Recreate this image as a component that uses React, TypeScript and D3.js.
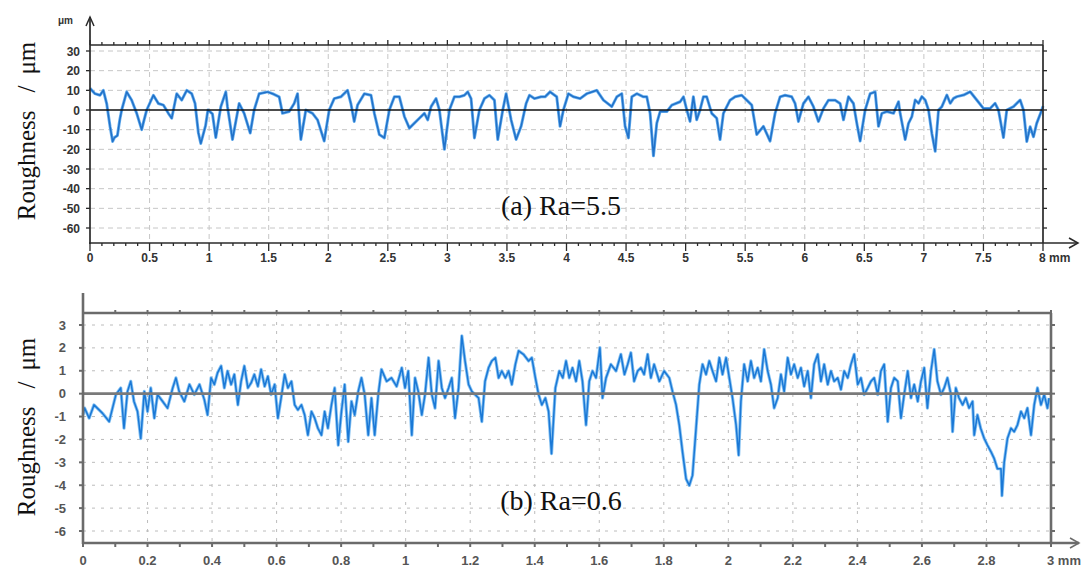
import React from "react";
import * as d3 from "d3";

// (a) profile, Ra = 5.5 : position in mm, height in µm
const topPos = [
  0, 0.042, 0.084, 0.112, 0.14, 0.168, 0.19, 0.205, 0.23, 0.25, 0.266, 0.308, 0.35, 0.392, 0.434, 0.45, 0.476,
  0.532, 0.574, 0.616, 0.658, 0.686, 0.728, 0.77, 0.812, 0.854, 0.882, 0.91, 0.93, 0.97, 0.99, 1.028, 1.056,
  1.098, 1.14, 1.154, 1.196, 1.252, 1.294, 1.345, 1.378, 1.42, 1.49, 1.532, 1.588, 1.616, 1.672, 1.714, 1.742,
  1.77, 1.812, 1.868, 1.91, 1.966, 2.008, 2.05, 2.106, 2.162, 2.19, 2.218, 2.246, 2.303, 2.359, 2.387, 2.429,
  2.471, 2.513, 2.555, 2.597, 2.639, 2.681, 2.723, 2.765, 2.807, 2.835, 2.863, 2.905, 2.933, 2.975, 3.017,
  3.059, 3.101, 3.143, 3.171, 3.199, 3.227, 3.269, 3.311, 3.353, 3.395, 3.423, 3.465, 3.493, 3.535, 3.577,
  3.619, 3.661, 3.689, 3.731, 3.787, 3.82, 3.862, 3.918, 3.946, 3.974, 4.016, 4.058, 4.114, 4.17, 4.254, 4.31,
  4.38, 4.422, 4.464, 4.492, 4.52, 4.548, 4.59, 4.646, 4.674, 4.702, 4.73, 4.758, 4.786, 4.842, 4.884, 4.954,
  4.982, 5.01, 5.037, 5.065, 5.093, 5.121, 5.149, 5.177, 5.219, 5.261, 5.289, 5.317, 5.373, 5.415, 5.471,
  5.513, 5.555, 5.597, 5.653, 5.709, 5.751, 5.793, 5.835, 5.891, 5.919, 5.947, 5.989, 6.031, 6.073, 6.115,
  6.157, 6.199, 6.255, 6.297, 6.325, 6.367, 6.409, 6.437, 6.465, 6.507, 6.549, 6.591, 6.619, 6.647, 6.689,
  6.745, 6.787, 6.801, 6.843, 6.871, 6.899, 6.927, 6.955, 6.983, 7.011, 7.039, 7.067, 7.095, 7.123, 7.151,
  7.193, 7.221, 7.249, 7.277, 7.333, 7.389, 7.444, 7.5, 7.556, 7.598, 7.626, 7.668, 7.696, 7.752, 7.808,
  7.836, 7.864, 7.892, 7.92, 7.947, 7.99, 8,
];
const topVal = [
  11, 8.3, 7.5, 10, 3.3, -8.3, -16, -14, -13, -5, 0, 9.2, 5, -1.7, -10, -6, 0,
  7.5, 3.3, 2.5, -1.7, -4.2, 8.3, 5, 10, 8.3, 3.3, -11.7, -17, -8, 0, -2, -14,
  1.7, 9.2, 1.7, -15, 3.3, -1.7, -11.7, 0, 8.3, 9.2, 8.3, 6.7, -1.7, -0.8, 3.3, 8.3,
  -15, 0, -1.7, -5, -15.8, 0, 5.8, 6.7, 10, 3.3, -5.8, 2.5, 8.3, 7.5, -1.7, -12.5,
  -14.2, 0, 6.7, 6.7, -3.3, -9.2, -6.7, -4.2, -1.7, -5, 1.7, 5.8, 0, -20, 0,
  6.7, 6.7, 7.5, 9.2, 5.8, -14.2, 0, 5.8, 7.5, 5, -15, 0, 8.3, -5, -15,
  -8.3, 3.3, 7.5, 5.8, 6.7, 6.7, 9.2, 6.7, -8.3, 0, 8.3, 6.7, 5.8, 8.3, 10, 5,
  1.7, 6.7, 8.3, -8.3, -14.2, 6.7, 8.3, 6.7, 6.7, -1.7, -23.3, -6.7, -0.8, -0.8, 2.5, 4.2,
  6.7, 0, -5.8, 6.7, -5, 0, 6.7, 6.7, -1.7, -4.2, -15, -1.7, 5, 6.7, 7.5,
  5, 2.5, -12.5, -8.3, -15.8, -1.7, 6.7, 7.5, 6.7, 3.3, -5.8, 3.3, 6.7, 1.7, -5.8,
  0.8, 5, 5, 3.3, -5, 6.7, 3.3, -6.7, -15.8, 0, 8.3, 9.2, -8.3, -1.7, -0.8,
  -1.7, 4.2, -1.7, -15, -6.8, -3.4, 5.1, 3.4, 6.8, 5.1, 0, -11.9, -21, 0, 1.7,
  7.6, 3.4, 5.9, 6.8, 7.6, 9.3, 5.1, 0.8, 0.8, 3.4, 0, -14, 0, 1.7, 5.1,
  0, -16, -8.5, -13.6, -6.8, 0, 2,
];

// (b) profile, Ra = 0.6
const botPos = [
  0, 0.005, 0.019, 0.034, 0.06, 0.081, 0.102, 0.117, 0.127, 0.138, 0.148, 0.158, 0.169, 0.179, 0.19, 0.2,
  0.21, 0.221, 0.231, 0.247, 0.262, 0.278, 0.288, 0.298, 0.314, 0.33, 0.345, 0.361, 0.376, 0.386, 0.397,
  0.407, 0.417, 0.428, 0.438, 0.448, 0.459, 0.469, 0.48, 0.49, 0.5, 0.511, 0.521, 0.531, 0.542, 0.552, 0.563,
  0.573, 0.583, 0.594, 0.604, 0.614, 0.625, 0.635, 0.646, 0.656, 0.666, 0.677, 0.687, 0.697, 0.708, 0.718,
  0.728, 0.739, 0.749, 0.759, 0.77, 0.78, 0.791, 0.801, 0.811, 0.822, 0.832, 0.842, 0.853, 0.863, 0.873,
  0.884, 0.894, 0.904, 0.915, 0.925, 0.941, 0.956, 0.972, 0.988, 0.998, 1.008, 1.019, 1.029, 1.039, 1.05,
  1.06, 1.071, 1.081, 1.091, 1.102, 1.112, 1.122, 1.133, 1.143, 1.153, 1.164, 1.174, 1.184, 1.195, 1.205,
  1.215, 1.226, 1.236, 1.246, 1.257, 1.267, 1.278, 1.288, 1.298, 1.309, 1.319, 1.329, 1.34, 1.35, 1.365,
  1.381, 1.391, 1.402, 1.412, 1.422, 1.433, 1.443, 1.452, 1.464, 1.476, 1.487, 1.497, 1.507, 1.517, 1.528,
  1.538, 1.548, 1.559, 1.569, 1.579, 1.59, 1.602, 1.61, 1.621, 1.636, 1.652, 1.667, 1.678, 1.688, 1.698,
  1.708, 1.719, 1.729, 1.739, 1.75, 1.76, 1.77, 1.786, 1.801, 1.817, 1.827, 1.838, 1.848, 1.858, 1.869,
  1.879, 1.889, 1.9, 1.91, 1.92, 1.931, 1.941, 1.951, 1.962, 1.972, 1.982, 1.993, 2.003, 2.013, 2.024,
  2.032, 2.039, 2.049, 2.06, 2.07, 2.08, 2.091, 2.101, 2.111, 2.122, 2.132, 2.142, 2.153, 2.163, 2.173,
  2.184, 2.194, 2.204, 2.215, 2.225, 2.235, 2.246, 2.256, 2.266, 2.277, 2.287, 2.297, 2.308, 2.318, 2.328,
  2.339, 2.349, 2.359, 2.37, 2.38, 2.39, 2.401, 2.411, 2.421, 2.432, 2.442, 2.452, 2.463, 2.473, 2.483,
  2.494, 2.504, 2.514, 2.525, 2.535, 2.545, 2.556, 2.566, 2.576, 2.587, 2.597, 2.607, 2.617, 2.628, 2.638,
  2.648, 2.659, 2.669, 2.679, 2.69, 2.695, 2.705, 2.715, 2.726, 2.736, 2.746, 2.757, 2.762, 2.772, 2.782,
  2.793, 2.803, 2.814, 2.824, 2.834, 2.845, 2.848, 2.855, 2.865, 2.876, 2.886, 2.896, 2.907, 2.917, 2.927,
  2.938, 2.948, 2.958, 2.969, 2.979, 2.989, 2.994,
];
const botVal = [
  -0.93, -0.63, -1.07, -0.49, -0.85, -1.22, -0.04, 0.25, -1.51, 0.1, 0.54, -0.34, -0.78, -1.96, 0.1, -0.78,
  0.25, -1.07, -0.04, -0.34, -0.63, 0.25, 0.69, 0.1, -0.34, 0.4, -0.04, 0.4, -0.26, -0.93, 0.69,
  0.4, 0.91, 1.21, 0.25, 0.99, 0.4, 0.84, -0.49, 0.54, 1.21, 0.25, 0.47, 0.84, 0.32, 1.06, 0.32,
  0.76, -0.04, 0.4, -1.07, -0.19, 0.84, 0.25, 0.54, -0.49, -0.71, -0.49, -0.93, -1.81, -0.78, -1.07,
  -1.51, -1.81, -0.78, -1.51, -0.49, 0.25, -2.25, -0.78, 0.4, -2.1, -0.34, -0.93, 0.1, 0.69, -0.04,
  -1.81, -0.19, -1.81, -0.04, 1.06, 0.54, 0.69, 0.32, 1.13, 0.25, 0.99, -1.81, 0.69, 0.1, -0.93,
  -0.04, 1.57, -0.04, -0.63, 1.43, 0.25, -0.19, 0.25, 0.69, -1.07, 0.25, 2.53, 1.43, 0.4, 0.1,
  -0.04, -0.19, -1.22, 0.54, 1.13, 1.43, 1.57, 0.69, 0.99, 0.69, 0.99, 0.4, 1.28, 1.87, 1.72,
  1.43, 1.57, 0.69, -0.04, -0.49, -0.19, -0.78, -2.62, 0.25, 0.99, 0.69, 1.43, 0.69, 1.13, 0.54,
  1.43, 0.54, -1.37, 0.54, 0.99, 0.69, 2.01, -0.19, 0.69, 1.28, 0.99, 1.72, 0.84, 1.28, 1.79,
  0.54, 0.99, 1.13, 0.84, 1.72, 0.69, 1.28, 0.54, 0.99, 0.69, 0.1, -0.49, -1.37, -2.54, -3.72,
  -4.01, -3.57, -1.51, 0.4, 1.28, 0.84, 1.43, 0.99, 0.54, 1.57, 0.84, 1.57, 0.69, -0.19, -1.37,
  -2.69, -0.34, 1.28, 0.54, 1.43, 0.69, 1.13, 0.54, 1.94, 0.99, 0.4, -0.63, -0.19, 0.84, 0.1,
  1.57, 0.84, 1.28, 0.69, 1.13, 0.32, 0.99, -0.19, 1.28, 1.72, 0.54, 1.28, 0.4, 0.99, 0.54,
  0.69, 0.18, 0.99, 0.69, 1.28, 1.72, 0.4, 0.69, -0.04, 0.25, 0.54, 0.69, -0.04, 0.99, 1.28,
  -1.22, 0.25, 0.69, 0.54, -1.07, -0.04, 0.99, -0.19, 0.4, -0.34, 0.54, 1.13, -0.63, 0.99, 1.94,
  0.54, -0.04, 0.25, 0.69, -0.04, -1.66, 0.25, -0.19, -0.49, -0.19, -0.63, -0.34, -1.81, -0.93, -1.51,
  -1.96, -2.25, -2.54, -2.84, -3.28, -3.28, -4.46, -2.99, -1.96, -1.51, -1.66, -1.37, -0.78, -1.07, -0.63,
  -1.81, -0.49, 0.25, -0.49, -0.04, -0.63, -0.19,
];

const topYTicks = [30, 20, 10, 0, -10, -20, -30, -40, -50, -60];
const topXTicks = [0, 0.5, 1, 1.5, 2, 2.5, 3, 3.5, 4, 4.5, 5, 5.5, 6, 6.5, 7, 7.5, 8];
const botYTicks = [3, 2, 1, 0, -1, -2, -3, -4, -5, -6];
const botXTicks = [0, 0.2, 0.4, 0.6, 0.8, 1, 1.2, 1.4, 1.6, 1.8, 2, 2.2, 2.4, 2.6, 2.8, 3];

const sans = "'Liberation Sans', Arial, sans-serif";
const serif = "'Liberation Serif', 'Times New Roman', serif";

function Panel(p) {
  const x = d3.scaleLinear().domain(p.xDomain).range([p.left, p.right]);
  const y = d3.scaleLinear().domain(p.yDomain).range(p.yRange);
  const pts = p.pos.map((v, i) => [v, p.val[i]]);
  const line = d3.line().x((d) => x(d[0])).y((d) => y(d[1]));
  const minor = d3.range(0, Math.round(p.xDomain[1] * 10) + 1).map((i) => i / 10);
  const isMajor = (v) => p.xTicks.some((t) => Math.abs(t - v) < 1e-6);
  const last = p.xTicks[p.xTicks.length - 1];

  return (
    <g>
      {/* grid */}
      {p.yTicks.filter((t) => t !== 0).map((t) => (
        <line key={"gy" + t} x1={p.left} x2={p.right} y1={y(t)} y2={y(t)}
          stroke={p.gridColor} strokeWidth={1} strokeDasharray={p.gridDash} />
      ))}
      {p.xTicks.filter((t) => t > 0 && t < last).map((t) => (
        <line key={"gx" + t} x1={x(t)} x2={x(t)} y1={p.frameTop} y2={p.axisY}
          stroke={p.gridColor} strokeWidth={1} strokeDasharray={p.gridDash} />
      ))}

      {/* profile */}
      <path d={line(pts)} fill="none" stroke={p.haloColor} strokeWidth={p.haloWidth} strokeLinejoin="round" />
      <path d={line(pts)} fill="none" stroke={p.lineColor} strokeWidth={p.lineWidth} strokeLinejoin="round" />

      {/* zero line */}
      <line x1={p.left} x2={p.right} y1={y(0)} y2={y(0)} stroke={p.zeroColor} strokeWidth={p.zeroWidth} />

      {/* frame + axes */}
      <line x1={p.left} x2={p.right} y1={p.frameTop} y2={p.frameTop} stroke={p.axisColor} strokeWidth={p.axisWidth} />
      <line x1={p.right} x2={p.right} y1={p.frameTop} y2={p.axisY} stroke={p.axisColor} strokeWidth={p.axisWidth} />
      <line x1={p.left} x2={p.left} y1={p.axisTop} y2={p.axisY + 1} stroke={p.axisColor} strokeWidth={p.axisWidth} />
      <line x1={p.left - 1} x2={p.arrowX} y1={p.axisY} y2={p.axisY} stroke={p.axisColor} strokeWidth={p.axisWidth} />
      <path d={`M${p.arrowX - 9},${p.axisY - 5} L${p.arrowX},${p.axisY} L${p.arrowX - 9},${p.axisY + 5}`}
        fill="none" stroke={p.axisColor} strokeWidth={1.5} />
      {p.upArrow && (
        <path d={`M${p.left - 4},${p.axisTop + 9} L${p.left},${p.axisTop} L${p.left + 4},${p.axisTop + 9}`}
          fill="none" stroke={p.axisColor} strokeWidth={1.5} />
      )}

      {/* ticks */}
      {minor.map((v) => (
        <g key={"t" + v}>
          <line x1={x(v)} x2={x(v)} y1={p.frameTop} y2={p.frameTop - (isMajor(v) ? p.topMajor : p.topMinor)}
            stroke={p.axisColor} strokeWidth={p.tickWidth} />
          <line x1={x(v)} x2={x(v)} y1={p.axisY} y2={p.axisY + (isMajor(v) ? p.botMajor : p.botMinor)}
            stroke={p.axisColor} strokeWidth={p.tickWidth} />
        </g>
      ))}
      {p.yTicks.map((t) => (
        <g key={"yt" + t}>
          <line x1={p.left - 4} x2={p.left} y1={y(t)} y2={y(t)} stroke={p.axisColor} strokeWidth={p.tickWidth} />
          <line x1={p.right} x2={p.right + 4} y1={y(t)} y2={y(t)} stroke={p.axisColor} strokeWidth={p.tickWidth} />
        </g>
      ))}

      {/* tick labels */}
      {p.yTicks.map((t) => (
        <text key={"yl" + t} x={p.yLabelX} y={y(t) + 4.5} textAnchor="end" fontFamily={sans}
          fontSize={p.labelSize} fontWeight="bold" fill={p.labelColor}>{t}</text>
      ))}
      {p.xTicks.map((t) => (
        <text key={"xl" + t} x={t === last ? x(t) - 4 : x(t)} y={p.xLabelY} textAnchor={t === last ? "start" : "middle"}
          fontFamily={sans} fontSize={p.labelSize} fontWeight="bold" fill={p.labelColor}>
          {t === last ? `${t} mm` : t}
        </text>
      ))}

      {/* axis title */}
      <text transform={`translate(${p.titleX},${p.titleY}) rotate(-90)`} textAnchor="middle"
        fontFamily={serif} fontSize={25} fill="#111">
        Roughness<tspan dx={18}>/</tspan><tspan dx={11}>μm</tspan>
      </text>

      {/* Ra note */}
      <text x={p.noteX} y={p.noteY} textAnchor="middle" fontFamily={serif} fontSize={28} fill="#111">{p.note}</text>
    </g>
  );
}

export default function App() {
  return (
    <svg width={1082} height={567} style={{ position: "absolute", left: 0, top: 0, background: "#fff" }}>
      <Panel
        pos={topPos} val={topVal} xDomain={[0, 8]} yDomain={[-60, 30]} yRange={[228, 51]}
        left={90} right={1043} frameTop={45} axisY={243} axisTop={17} arrowX={1078} upArrow
        xTicks={topXTicks} yTicks={topYTicks}
        gridColor="#c6c6c6" gridDash="5,4" zeroColor="#111" zeroWidth={1.6}
        axisColor="#2a2a2a" axisWidth={1.7} tickWidth={1.3}
        topMajor={5} topMinor={3} botMajor={8} botMinor={3}
        lineColor="#2171c8" lineWidth={1.5} haloColor="#66aeee" haloWidth={3}
        yLabelX={80} xLabelY={262} labelSize={12} labelColor="#333"
        titleX={35} titleY={131} noteX={561} noteY={215} note="(a) Ra=5.5"
      />
      <text x={58} y={24} fontFamily={sans} fontSize={10} fontWeight="bold" fill="#333">μm</text>
      <Panel
        pos={botPos} val={botVal} xDomain={[0, 3]} yDomain={[-6, 3]} yRange={[531, 325]}
        left={83} right={1051} frameTop={313} axisY={543} axisTop={293} arrowX={1079} upArrow={false}
        xTicks={botXTicks} yTicks={botYTicks}
        gridColor="#bcbcbc" gridDash="3,6" zeroColor="#7a7a7a" zeroWidth={2.6}
        axisColor="#6b6b6b" axisWidth={2.6} tickWidth={2}
        topMajor={3} topMinor={3} botMajor={4} botMinor={4}
        lineColor="#1a78d6" lineWidth={1.5} haloColor="#86c2f2" haloWidth={3.2}
        yLabelX={66} xLabelY={565} labelSize={13} labelColor="#555"
        titleX={35} titleY={427} noteX={561} noteY={510} note="(b) Ra=0.6"
      />
    </svg>
  );
}
